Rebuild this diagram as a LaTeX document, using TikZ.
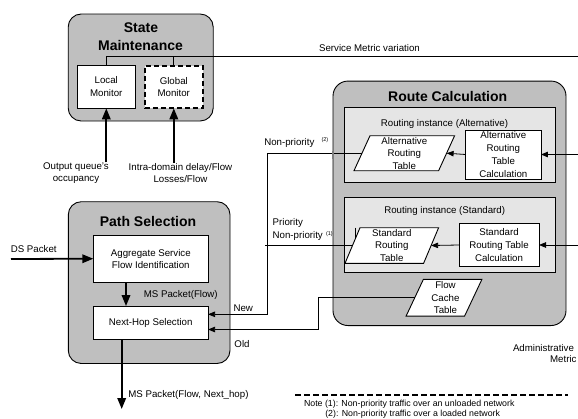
\documentclass[tikz,border=0pt]{standalone}
\usepackage{fontspec}
\setmainfont{Liberation Sans}
\usetikzlibrary{arrows.meta}
\definecolor{outergray}{gray}{0.75}
\definecolor{innergray}{gray}{0.9}
\begin{document}
\begin{tikzpicture}[x=1pt,y=-1pt,
  every node/.style={inner sep=0pt, outer sep=0pt},
  txt/.style={font=\fontsize{9.7}{12.6}\selectfont, align=center},
  lbl/.style={font=\fontsize{9.7}{12.6}\selectfont},
  tbltxt/.style={font=\fontsize{9.7}{12.4}\selectfont, align=center},
  notetxt/.style={font=\fontsize{8.8}{10}\selectfont},
  suptxt/.style={font=\fontsize{5.5}{6}\selectfont},
  ttl/.style={font=\fontsize{14}{17}\selectfont\bfseries},
  outerbox/.style={draw, line width=0.9pt, fill=outergray, rounded corners=13pt},
  instbox/.style={draw, line width=0.9pt, fill=innergray},
  wbox/.style={draw, line width=0.9pt, fill=white, txt},
  conn/.style={line width=0.8pt},
  thinarrow/.style={conn, -{Triangle[length=7pt,width=5.5pt]}},
  thickarrow/.style={line width=1.8pt, -{Triangle[length=11pt,width=8.5pt]}},
]
\useasboundingbox (0,0) rectangle (578,418);

% ---------------- State Maintenance ----------------
\node[outerbox, minimum width=145pt, minimum height=107pt] (sm) at (140.7,67.5) {};
\node[ttl, anchor=base] (smt1) at (141,32) {State};
\node[ttl, anchor=base] (smt2) at (140.5,50) {Maintenance};
\node[wbox, minimum width=57.3pt, minimum height=43.3pt] (lm) at (106.3,86.7) {Local\\Monitor};
\node[wbox, line width=1.8pt, dash pattern=on 5pt off 3pt, minimum width=57.7pt, minimum height=42.6pt] (gm) at (173.8,87) {Global\\Monitor};

\coordinate (smv) at (578,56);
\draw[conn] (lm.north) |- (smv);
\draw[conn] (gm.north) -- (gm.north |- smv);
\node[lbl, anchor=base] (smvl) at (369.5,51) {Service Metric variation};

\node[txt] (oq) at (76,173) {Output queue's\\occupancy};
\node[txt] (idl) at (180.5,173) {Intra-domain delay/Flow\\Losses/Flow};
\draw[thickarrow] (lm.south |- oq.north) -- (lm.south);
\draw[thickarrow] (gm.south |- idl.north) -- (gm.south);

% ---------------- Route Calculation ----------------
\node[outerbox, rounded corners=15pt, minimum width=233pt, minimum height=244.5pt] (rc) at (449.5,203.3) {};
\node[ttl, anchor=base] (rct) at (447.7,101) {Route Calculation};
\node[instbox, minimum width=211pt, minimum height=74.3pt] (ria) at (449.8,144.85) {};
\node[lbl, anchor=base] (rial) at (444.5,126.2) {Routing instance (Alternative)};
\node[instbox, minimum width=211pt, minimum height=75.4pt] (ris) at (449.8,235) {};
\node[lbl, anchor=base] (risl) at (444.7,213.5) {Routing instance (Standard)};

\node[wbox, font=\fontsize{9.7}{12.7}\selectfont, minimum width=75.3pt, minimum height=49pt] (arc) at (503.3,154.5) {Alternative\\Routing\\Table\\Calculation};
\node[wbox, minimum width=80pt, minimum height=43.4pt] (src) at (499,245) {Standard\\Routing Table\\Calculation};

% parallelograms
\node[minimum width=84.6pt, minimum height=35pt] (art) at (404.3,153.2) {};
\draw[line width=0.9pt, fill=white] ([xshift=8pt]art.north west) -- ([xshift=8pt]art.north east) -- ([xshift=-8pt]art.south east) -- ([xshift=-8pt]art.south west) -- cycle;
\node[tbltxt] (artt) at (art.center) {Alternative\\Routing\\Table};

\node[minimum width=78.6pt, minimum height=35.6pt] (srt) at (391.8,245.5) {};
\draw[line width=0.9pt, fill=white] ([xshift=7.5pt]srt.north west) -- ([xshift=7.5pt]srt.north east) -- ([xshift=-7.5pt]srt.south east) -- ([xshift=-7.5pt]srt.south west) -- cycle;
\node[tbltxt] (srtt) at (srt.center) {Standard\\Routing\\Table};

\node[minimum width=58.5pt, minimum height=36.7pt] (fct) at (444,297.7) {};
\draw[line width=0.9pt, fill=white] ([xshift=8.65pt]fct.north west) -- ([xshift=8.65pt]fct.north east) -- ([xshift=-8.65pt]fct.south east) -- ([xshift=-8.65pt]fct.south west) -- cycle;
\node[tbltxt] (fctt) at ([xshift=1.5pt]fct.center) {Flow\\Cache\\Table};

\draw[thinarrow] (arc.west) -- (art.east);
\draw[thinarrow] (src.west) -- (srt.east);
\coordinate (adma) at (578,154.5);
\coordinate (admb) at (578,245);
\draw[thinarrow] (adma) -- (arc.east);
\draw[thinarrow] (admb) -- (src.east);

% ---------------- Path Selection ----------------
\node[outerbox, minimum width=161.7pt, minimum height=161.8pt] (ps) at (149.15,282.6) {};
\node[ttl, anchor=base] (pst) at (148,226.7) {Path Selection};
\node[wbox, font=\fontsize{9.7}{11.8}\selectfont, minimum width=115pt, minimum height=47.3pt] (asf) at (150.8,258.7) {Aggregate Service\\Flow Identification};
\node[wbox, minimum width=114.7pt, minimum height=33.3pt] (nhs) at (150.7,322.7) {Next-Hop Selection};

\coordinate (dsin) at (11,259);
\draw[thickarrow] (dsin) -- (asf.west);
\node[lbl, anchor=base] (dsl) at (33.7,252.5) {DS Packet};

\coordinate (msx) at (126,0);
\draw[thickarrow] (asf.south -| msx) -- (nhs.north -| msx);
\node[lbl, anchor=base] (msl) at (180.8,297.8) {MS Packet(Flow)};

\coordinate (outx) at (121.7,409);
\draw[thickarrow] (nhs.south -| outx) -- (outx);
\node[lbl, anchor=base west] (msol) at (128.3,397.5) {MS Packet(Flow, Next\_hop)};

% ---------------- Connectors to Next-Hop ----------------
\coordinate (nv) at (267.5,0);
\coordinate (newy) at (0,314.3);
\draw[thinarrow] (art.west) -| (nv |- newy) -- (nhs.east |- newy);
\coordinate (pj) at (265,245.5);
\draw[conn] (srt.west) -- (pj);

\coordinate (oldx) at (318,0);
\coordinate (oldy) at (0,329.5);
\draw[thinarrow] (fct.west) -| (oldx |- oldy) -- (nhs.east |- oldy);

\fill[gray] (331.5,151) rectangle (334,159);
\draw[conn] (355.7,227.7) -- (355.7,238.3);

% ---------------- Labels ----------------
\node[lbl, anchor=base] (newl) at (243.3,311.8) {New};
\node[lbl, anchor=base] (oldl) at (242,347.8) {Old};
\node[lbl, anchor=base west] (np2) at (264.3,145.8) {Non-priority};
\node[suptxt, anchor=base west] (np2s) at (321.5,141.5) {(2)};
\node[lbl, anchor=base west] (pri) at (272.7,225.8) {Priority};
\node[lbl, anchor=base west] (np1) at (272.7,238.5) {Non-priority};
\node[suptxt, anchor=base west] (np1s) at (326,235.5) {(1)};
\node[lbl, anchor=base west] (adm) at (513,351.2) {Administrative};
\node[lbl, anchor=base east] (met) at (576.5,362.8) {Metric};

% ---------------- Note ----------------
\coordinate (dl1) at (295,395);
\coordinate (dl2) at (568,395);
\draw[line width=1.8pt, dash pattern=on 6pt off 3pt] (dl1) -- (dl2);
\node[notetxt, anchor=base west] (n1) at (304,406) {Note (1): Non-priority traffic over an unloaded network};
\node[notetxt, anchor=base west] (n2) at (325.3,416.5) {(2): Non-priority traffic over a loaded network};
\end{tikzpicture}
\end{document}
